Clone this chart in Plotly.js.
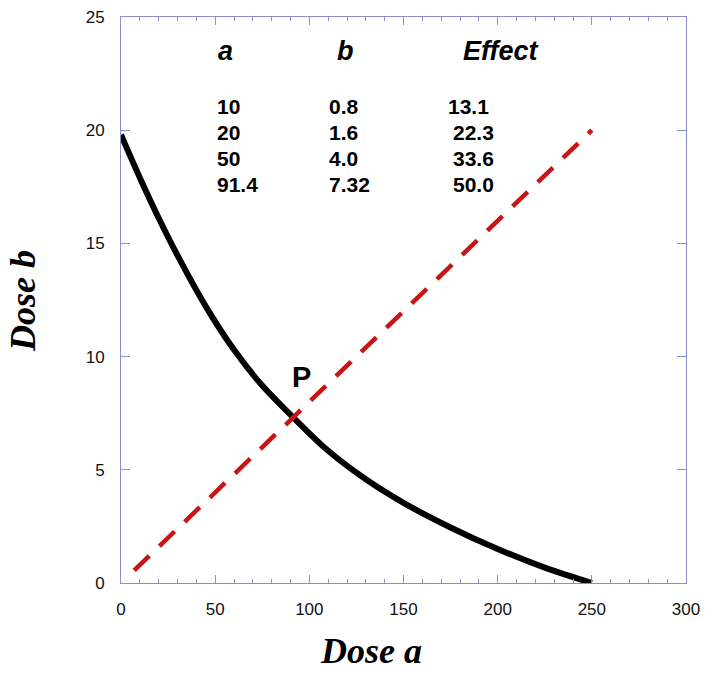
<!DOCTYPE html>
<html>
<head>
<meta charset="utf-8">
<script src="https://cdn.plot.ly/plotly-3.0.1.min.js"></script>
<style>html,body{margin:0;padding:0;background:#fff;}#chart{width:714px;height:677px;}</style>
</head>
<body>
<div id="chart"></div>
<script>
// Isobole (dose a vs dose b producing 50% effect)
const isoboleA = [0, 10, 20, 30, 45, 60, 75, 91.4, 110, 130, 150, 175, 200, 225, 250];
const isoboleB = [19.8, 17.9, 16.12, 14.47, 12.22, 10.30, 8.72, 7.32, 5.84, 4.58, 3.54, 2.45, 1.50, 0.68, 0];
// Fixed-ratio ray (b/a = 0.08)
const rayA = [7, 250];
const rayB = [0.56, 20];
// Table
const tableHeaders = ['a', 'b', 'Effect'];
const tableA = ['10', '20', '50', '91.4'];
const tableB = ['0.8', '1.6', '4.0', '7.32'];
const tableEffect = ['13.1', '22.3', '33.6', '50.0'];
const pointLabel = 'P';
const xTitle = 'Dose a';
const yTitle = 'Dose b';

// layout geometry (pixels)
const W = 714, H = 677;
const M = {l: 121, r: 28, t: 17, b: 94};
const PW = W - M.l - M.r, PH = H - M.t - M.b;
const px = p => (p - M.l) / PW;          // pixel -> paper x
const py = p => (H - M.b - p) / PH;      // pixel -> paper y

const axisColor = '#8c8cc8';
const sans = 'Arial, "Liberation Sans", sans-serif';
const serif = '"Times New Roman", "Liberation Serif", serif';

const annotations = [];
function addText(text, xPix, yPix, size, anchor, extra) {
  annotations.push(Object.assign({
    text: text, xref: 'paper', yref: 'paper', x: px(xPix), y: py(yPix),
    xanchor: anchor, yanchor: 'middle', showarrow: false,
    font: {family: sans, size: size, color: '#000'}
  }, extra || {}));
}
// headers
const headerX = [216, 335, 461];
tableHeaders.forEach((h, i) => addText('<b><i>' + h + '</i></b>', headerX[i], 51, 27, 'left'));
// rows
const rowY = [106, 132, 158, 184];
const colX = [215, 327, 451];
const effShift = [-5, 0, 0, 0];
tableA.forEach((v, i) => {
  addText('<b>' + v + '</b>', colX[0], rowY[i], 21, 'left');
  addText('<b>' + tableB[i] + '</b>', colX[1], rowY[i], 21, 'left');
  addText('<b>' + tableEffect[i] + '</b>', colX[2] + effShift[i], rowY[i], 21, 'left');
});
// P label
addText('<b>' + pointLabel + '</b>', 301, 377, 29, 'center');
// axis titles
addText('<b><i>' + xTitle + '</i></b>', 371, 651, 36, 'center', {font: {family: serif, size: 36, color: '#000'}});
addText('<b><i>' + yTitle + '</i></b>', 23, 301, 36, 'center', {font: {family: serif, size: 36, color: '#000'}, textangle: -90});

const traces = [
  {x: isoboleA, y: isoboleB, mode: 'lines', type: 'scatter',
   line: {color: '#000000', width: 6, shape: 'spline', smoothing: 1}, hoverinfo: 'skip'},
  {x: rayA, y: rayB, mode: 'lines', type: 'scatter',
   line: {color: '#c81414', width: 4.5, dash: '21px,14px'}, hoverinfo: 'skip'}
];

const axisCommon = {
  showline: true, linecolor: axisColor, linewidth: 1, mirror: 'ticks',
  ticks: 'inside', tickcolor: axisColor, tickwidth: 1,
  showgrid: false, zeroline: false,
  tickfont: {family: sans, size: 17, color: '#111'}
};

const layout = {
  width: W, height: H, margin: M, showlegend: false,
  paper_bgcolor: '#fff', plot_bgcolor: '#fff',
  xaxis: Object.assign({}, axisCommon, {
    range: [0, 300], dtick: 50, tick0: 0, ticklen: 8, ticklabelstandoff: 11,
    minor: {dtick: 10, ticks: 'inside', ticklen: 4, tickcolor: axisColor, tickwidth: 1, showgrid: false}
  }),
  yaxis: Object.assign({}, axisCommon, {
    range: [0, 25], dtick: 5, tick0: 0, ticklen: 9, ticklabelstandoff: 12
  }),
  annotations: annotations
};

Plotly.newPlot('chart', traces, layout, {staticPlot: true, displayModeBar: false});
</script>
</body>
</html>
